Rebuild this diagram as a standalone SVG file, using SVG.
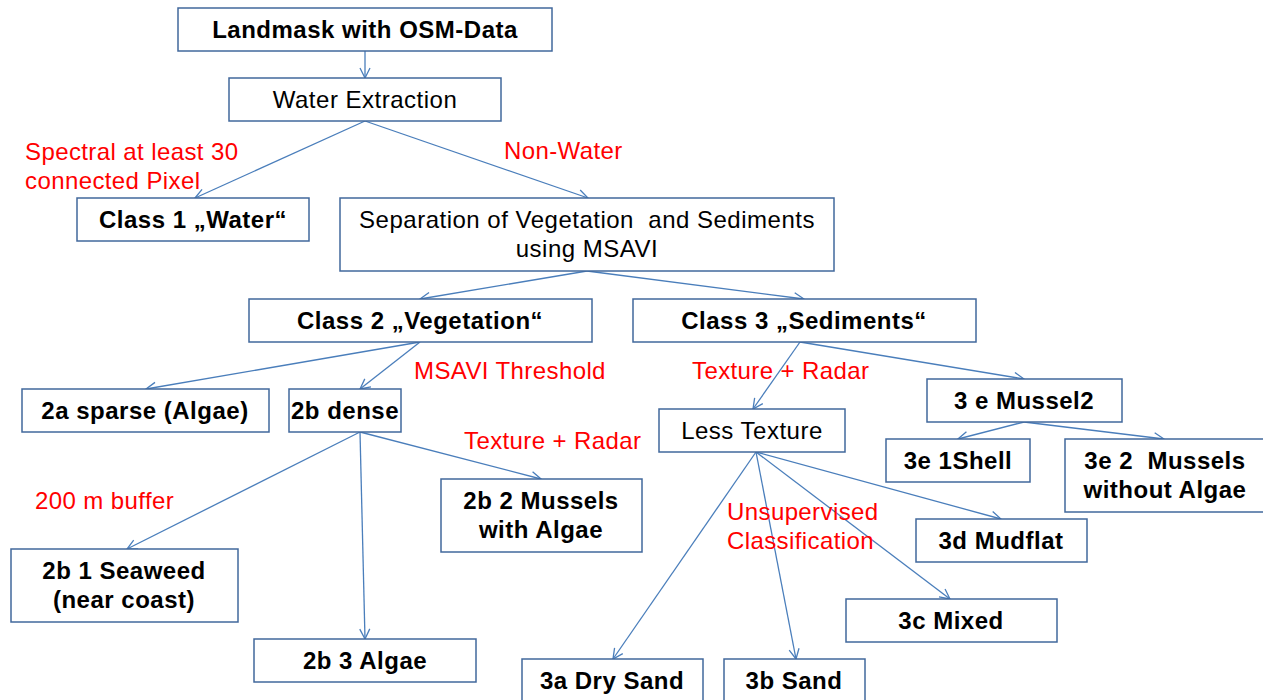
<svg xmlns="http://www.w3.org/2000/svg" width="1263" height="700" viewBox="0 0 1263 700">
<style>
.box{fill:#fff;stroke:#41689C;stroke-width:1.5}
.t{font-family:"Liberation Sans",Arial,sans-serif;font-size:24px;letter-spacing:0.5px;fill:#000;text-anchor:middle}
.b{font-weight:bold}
.p{white-space:pre}
.r{font-family:"Liberation Sans",Arial,sans-serif;font-size:24px;letter-spacing:0.4px;fill:#FF0000}
.c{stroke:#4A7EBB;stroke-width:1.3;fill:none;marker-end:url(#a)}
</style>
<defs>
<marker id="a" viewBox="0 0 12 12" refX="11" refY="6" markerWidth="12" markerHeight="12" markerUnits="userSpaceOnUse" orient="auto">
<path d="M1,1 L11,6 L1,11" fill="none" stroke="#4A7EBB" stroke-width="1.3"/>
</marker>
</defs>
<rect width="1263" height="700" fill="#fff"/>
<g id="connectors">
<line class="c" x1="365" y1="51" x2="365" y2="78"/>
<line class="c" x1="365" y1="121" x2="195" y2="198"/>
<line class="c" x1="365" y1="121" x2="588" y2="198"/>
<line class="c" x1="587" y1="271" x2="420" y2="299"/>
<line class="c" x1="587" y1="271" x2="804" y2="299"/>
<line class="c" x1="420" y1="342" x2="146" y2="389"/>
<line class="c" x1="420" y1="342" x2="360" y2="389"/>
<line class="c" x1="800" y1="342" x2="753" y2="409"/>
<line class="c" x1="800" y1="342" x2="1024" y2="379"/>
<line class="c" x1="360" y1="432" x2="127" y2="549"/>
<line class="c" x1="360" y1="432" x2="365" y2="639"/>
<line class="c" x1="360" y1="432" x2="541" y2="479"/>
<line class="c" x1="1024" y1="422" x2="958" y2="439"/>
<line class="c" x1="1024" y1="422" x2="1164" y2="439"/>
<line class="c" x1="756" y1="452" x2="613" y2="659"/>
<line class="c" x1="756" y1="452" x2="796" y2="659"/>
<line class="c" x1="756" y1="452" x2="950" y2="599"/>
<line class="c" x1="756" y1="452" x2="1001" y2="519"/>
</g>
<g id="landmask"><rect class="box" x="178" y="8" width="374" height="43"/><text class="t b" x="365" y="38">Landmask with OSM-Data</text></g>
<g id="water-extraction"><rect class="box" x="229" y="78" width="272" height="43"/><text class="t" x="365" y="108">Water Extraction</text></g>
<g id="class1"><rect class="box" x="77" y="198" width="232" height="43"/><text class="t b" x="193" y="228">Class 1 „Water“</text></g>
<g id="separation"><rect class="box" x="340" y="198" width="494" height="73"/><text class="t p" x="587" y="228">Separation of Vegetation  and Sediments</text><text class="t" x="587" y="257">using MSAVI</text></g>
<g id="class2"><rect class="box" x="249" y="299" width="343" height="43"/><text class="t b" x="420" y="329">Class 2 „Vegetation“</text></g>
<g id="class3"><rect class="box" x="633" y="299" width="343" height="43"/><text class="t b" x="804" y="329">Class 3 „Sediments“</text></g>
<g id="n2a"><rect class="box" x="22" y="389" width="247" height="43"/><text class="t b" x="145" y="419">2a sparse (Algae)</text></g>
<g id="n2b"><rect class="box" x="289" y="389" width="112" height="43"/><text class="t b" x="345" y="419">2b dense</text></g>
<g id="less-texture"><rect class="box" x="659" y="409" width="186" height="43"/><text class="t" x="752" y="439">Less Texture</text></g>
<g id="n3e"><rect class="box" x="927" y="379" width="195" height="43"/><text class="t b" x="1024" y="409">3 e Mussel2</text></g>
<g id="n3e1"><rect class="box" x="886" y="439" width="144" height="43"/><text class="t b" x="958" y="469">3e 1Shell</text></g>
<g id="n3e2"><rect class="box" x="1065" y="439" width="205" height="73"/><text class="t b p" x="1165" y="469">3e 2  Mussels</text><text class="t b" x="1165" y="498">without Algae</text></g>
<g id="n2b1"><rect class="box" x="11" y="549" width="227" height="73"/><text class="t b" x="124" y="579">2b 1 Seaweed</text><text class="t b" x="124" y="608">(near coast)</text></g>
<g id="n2b2"><rect class="box" x="441" y="479" width="201" height="73"/><text class="t b" x="541" y="509">2b 2 Mussels</text><text class="t b" x="541" y="538">with Algae</text></g>
<g id="n2b3"><rect class="box" x="254" y="639" width="222" height="43"/><text class="t b" x="365" y="669">2b 3 Algae</text></g>
<g id="n3d"><rect class="box" x="916" y="519" width="171" height="43"/><text class="t b" x="1001" y="549">3d Mudflat</text></g>
<g id="n3c"><rect class="box" x="846" y="599" width="211" height="43"/><text class="t b" x="951" y="629">3c Mixed</text></g>
<g id="n3a"><rect class="box" x="522" y="659" width="181" height="50"/><text class="t b" x="612" y="689">3a Dry Sand</text></g>
<g id="n3b"><rect class="box" x="724" y="659" width="141" height="50"/><text class="t b" x="794" y="689">3b Sand</text></g>
<g id="labels">
<text class="r" x="25" y="160">Spectral at least 30</text>
<text class="r" x="25" y="189">connected Pixel</text>
<text class="r" x="504" y="159">Non-Water</text>
<text class="r" x="414" y="379">MSAVI Threshold</text>
<text class="r" x="692" y="379">Texture + Radar</text>
<text class="r" x="464" y="449">Texture + Radar</text>
<text class="r" x="35" y="509">200 m buffer</text>
<text class="r" x="727" y="520">Unsupervised</text>
<text class="r" x="727" y="549">Classification</text>
</g>
</svg>
